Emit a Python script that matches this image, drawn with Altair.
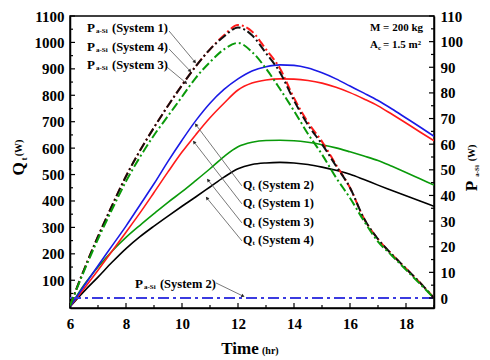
import math
import altair as alt
import pandas as pd

# ---------------- data ----------------
hours = [6 + 0.5 * i for i in range(27)]

# Q_t (W), left axis
q_system2 = [0, 78, 155, 230, 305, 385, 465, 550, 630, 705, 770, 822, 862, 892, 908,
             915, 913, 903, 885, 862, 835, 808, 780, 748, 714, 680, 645]
q_system1 = [0, 68, 138, 210, 282, 355, 432, 510, 585, 652, 715, 770, 820, 846, 858,
             862, 861, 856, 846, 830, 810, 786, 760, 728, 695, 661, 628]
q_system3 = [0, 82, 150, 210, 262, 308, 352, 395, 435, 478, 522, 568, 605, 622, 629,
             630, 628, 622, 613, 601, 586, 570, 553, 531, 508, 484, 460]
q_system4 = [0, 58, 112, 168, 220, 265, 305, 343, 380, 416, 453, 490, 522, 538, 544,
             546, 544, 538, 528, 516, 501, 481, 460, 440, 420, 400, 380]

# P_a-Si (W), right axis
p_system1 = [-3, 11, 24, 36, 47.5, 57.5, 66.5, 75, 83, 90.5, 97, 102.5, 106.5, 104, 97,
             89.5, 78, 68.5, 61, 52, 43, 31, 23, 17, 11.5, 6, 0]
p_system4 = [-3, 11, 24, 36, 47.5, 57.5, 66.5, 75, 83, 90.5, 97, 102, 105.5, 102.5, 95.5,
             88, 77, 67.5, 60, 51.5, 43, 31, 23, 17, 11.5, 6, 0]
p_system3 = [-3, 10.5, 23, 34.5, 45.5, 55, 63.5, 71, 78.5, 86, 92, 97, 99.5, 96, 89.5,
             81.5, 73, 64, 56, 47, 39, 30, 22, 16.5, 11, 5.5, 0]
p_system2 = [0] * 27

x_ticks = [6, 8, 10, 12, 14, 16, 18]
x_minor = [7, 9, 11, 13, 15, 17, 19]
q_ticks = list(range(100, 1101, 100))
q_minor = list(range(50, 1100, 100))
p_ticks = list(range(0, 111, 10))
p_minor = list(range(5, 110, 10))

# ---------------- layout ----------------
W, H = 364, 292
X_DOM = [6, 19]
QL_DOM = [-5, 1100]
PR_DOM = [-3.9, 110]
SERIF = "Liberation Serif"

x_scale = alt.Scale(domain=X_DOM, nice=False, zero=False)
yl_scale = alt.Scale(domain=QL_DOM, nice=False, zero=False)
yr_scale = alt.Scale(domain=PR_DOM, nice=False, zero=False)

AX = dict(title=None, ticks=False, grid=False, format="d", labelFont=SERIF,
          labelFontWeight="bold", labelFontSize=15, labelColor="black",
          domainColor="black", domainWidth=1.5)
x_axis = alt.Axis(values=x_ticks, labelPadding=8, labelFlush=False, **AX)
l_axis = alt.Axis(values=q_ticks, labelPadding=6, **AX)
r_axis = alt.Axis(values=p_ticks, labelPadding=6, orient="right", **AX)


def X(f="t"):
    return alt.X(f + ":Q", scale=x_scale, axis=x_axis)


def YL(f="v"):
    return alt.Y(f + ":Q", scale=yl_scale, axis=l_axis)


def YR(f="v"):
    return alt.Y(f + ":Q", scale=yr_scale, axis=r_axis)


def series(vals, color, right=False, dash=None, width=1.6):
    df = pd.DataFrame({"t": hours, "v": vals})
    kw = dict(color=color, strokeWidth=width, interpolate="monotone", clip=True)
    if dash:
        kw["strokeDash"] = dash
    return alt.Chart(df).mark_line(**kw).encode(x=X(), y=YR() if right else YL())


def ticks_left(vals, length):
    df = pd.DataFrame({"v": vals})
    return alt.Chart(df).mark_rule(color="black", strokeWidth=1.2).encode(
        y=YL(), x=alt.value(0), x2=alt.value(length))


def ticks_right(vals, length):
    df = pd.DataFrame({"v": vals})
    return alt.Chart(df).mark_rule(color="black", strokeWidth=1.2).encode(
        y=YR(), x=alt.value(W - length), x2=alt.value(W))


def ticks_bottom(vals, length):
    df = pd.DataFrame({"t": vals})
    return alt.Chart(df).mark_rule(color="black", strokeWidth=1.2).encode(
        x=X(), y=alt.value(H), y2=alt.value(H - length))


def label(text, t, q, size, dx=0, dy=0, align="left"):
    df = pd.DataFrame({"t": [t], "q": [q]})
    return alt.Chart(df).mark_text(text=text, font=SERIF, fontWeight="bold", fontSize=size,
                                   align=align, baseline="middle", dx=dx, dy=dy,
                                   color="black").encode(x=X(), y=YL("q"))


def sub_label(main, sub, rest, t, q, main_size=13, sub_size=7, sub_dx=9, rest_dx=25,
              rest_size=12.5):
    return [label(main, t, q, main_size),
            label(sub, t, q, sub_size, dx=sub_dx, dy=3),
            label(rest, t, q, rest_size, dx=rest_dx)]


def arrow(t1, q1, t2, q2):
    df = pd.DataFrame({"t": [t1], "q": [q1], "t2": [t2], "q2": [q2]})
    line = alt.Chart(df).mark_rule(color="#555555", strokeWidth=0.8).encode(
        x=X(), y=YL("q"), x2="t2:Q", y2="q2:Q")
    dxp = (t2 - t1) * W / (X_DOM[1] - X_DOM[0])
    dyp = -(q2 - q1) * H / (QL_DOM[1] - QL_DOM[0])
    ang = (math.degrees(math.atan2(dxp, -dyp)) + 360) % 360
    head = alt.Chart(pd.DataFrame({"t": [t2], "q": [q2]})).mark_point(
        shape="triangle-up", filled=True, size=14, angle=ang, color="#222222",
        opacity=1).encode(x=X(), y=YL("q"))
    return [line, head]


def title_text(text, px, py, size, angle=0, align="center"):
    df = pd.DataFrame({"a": [0]})
    kw = dict(text=text, font=SERIF, fontWeight="bold", fontSize=size, align=align,
              baseline="middle", color="black")
    if angle:
        kw["angle"] = angle
    return alt.Chart(df).mark_text(**kw).encode(x=alt.value(px), y=alt.value(py))


# ---------------- left (Q) group ----------------
left_layers = [
    series(q_system4, "#000000"),
    series(q_system3, "#0a9a0a"),
    series(q_system1, "#ff1a1a"),
    series(q_system2, "#1a1ae6"),
    ticks_left(q_ticks, 5), ticks_left(q_minor, 3),
    ticks_bottom(x_ticks, 5), ticks_bottom(x_minor, 3),
]

# annotations (data coordinates)
left_layers += sub_label("P", "a-Si", "(System 1)", 6.607, 1054)
left_layers += sub_label("P", "a-Si", "(System 4)", 6.607, 983)
left_layers += sub_label("P", "a-Si", "(System 3)", 6.607, 915)
left_layers += sub_label("P", "a-Si", "(System 2)", 8.32, 86)
for txt, qv in [("(System 2)", 460), ("(System 1)", 392), ("(System 3)", 320), ("(System 4)", 252)]:
    left_layers += sub_label("Q", "t", txt, 12.18, qv, main_size=12, sub_dx=9.5, rest_dx=15)
left_layers += [label("M = 200 kg", 16.714, 1054, 11),
                label("A", 16.714, 990, 11),
                label("c", 16.714, 990, 7, dx=8, dy=3),
                label("= 1.5 m²", 16.714, 990, 11, dx=13)]

left_layers += arrow(9.54, 1043, 10.46, 926)
left_layers += arrow(9.54, 975, 10.29, 892)
left_layers += arrow(9.46, 907, 10.14, 847)
left_layers += arrow(12.14, 457, 10.5, 688)
left_layers += arrow(12.14, 389, 10.43, 623)
left_layers += arrow(12.14, 317, 10.93, 479)
left_layers += arrow(12.14, 249, 10.89, 411)
left_layers += arrow(11.21, 90, 12.18, 40)

# axis titles
left_layers += [
    title_text("Q", 19 - 70, 169 - 16, 17, angle=270),
    title_text("t", 24 - 70, 159 - 16, 9, angle=270),
    title_text("(W)", 19 - 70, 148 - 16, 10, angle=270),
    title_text("P", 472 - 70, 186 - 16, 17, angle=270),
    title_text("a-Si", 477 - 70, 171 - 16, 7, angle=270),
    title_text("(W)", 472 - 70, 153 - 16, 10, angle=270),
    title_text("Time", 240 - 70, 349 - 16, 17),
    title_text("(hr)", 262 - 70, 351 - 16, 10, align="left"),
]

left_group = alt.layer(*left_layers)

# ---------------- right (P) group ----------------
dash_dot = [9, 3, 2, 3]
right_group = alt.layer(
    series(p_system2, "#3b3be0", right=True, dash=[11, 4, 3, 4], width=1.8),
    series(p_system1, "#ff1a1a", right=True, dash=dash_dot, width=2),
    series(p_system4, "#111111", right=True, dash=dash_dot, width=2),
    series(p_system3, "#0a9a0a", right=True, dash=dash_dot, width=2),
    ticks_right(p_ticks, 5), ticks_right(p_minor, 3),
)

chart = alt.layer(left_group, right_group).resolve_scale(y="independent").properties(
    width=W, height=H,
    padding={"left": 70, "top": 16, "right": 56, "bottom": 52},
    autosize=alt.AutoSizeParams(type="none"),
    background="white",
).configure_axis(
    labelFont=SERIF, labelFontWeight="bold", labelFontSize=15, labelColor="black",
    domainColor="black", domainWidth=1.5,
).configure_view(stroke="black", strokeWidth=1.5)

chart.save("out.html", embed_options={"renderer": "svg", "actions": False})
